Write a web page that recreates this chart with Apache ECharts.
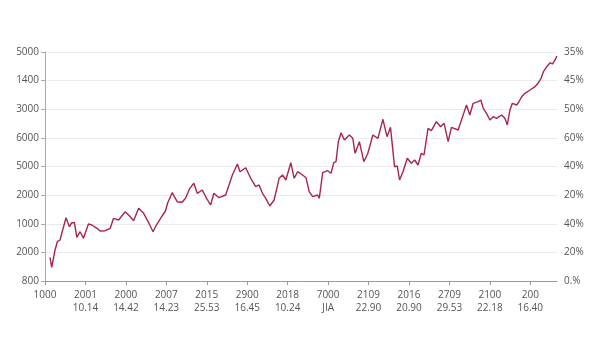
<!DOCTYPE html>
<html><head><meta charset="utf-8">
<script src="https://cdn.jsdelivr.net/npm/echarts@6/dist/echarts.min.js"></script>
<style>html,body{margin:0;padding:0;background:#fff}#c{width:600px;height:338px}</style>
</head><body><div id="c"></div>
<script>
const leftLabels = ['800','2000','1000','2000','5000','6000','3000','1400','5000'];
const rightLabels = ['0.%','20%','40%','20%','40%','60%','50%','45%','35%'];
const xTop = ['1000','2001','2000','2007','2015','2900','2018','7000','2109','2016','2709','2100','200'];
const xBottom = ['','10.14','14.42','14.23','25.53','16.45','10.24','JIA','22.90','20.90','29.53','22.18','16.40'];
const xs = [0.124,0.166,0.248,0.305,0.372,0.414,0.454,0.521,0.603,0.663,0.727,0.787,0.868,0.950,1.074,1.159,1.283,1.365,1.489,1.613,1.695,1.819,1.985,2.109,2.191,2.315,2.439,2.563,2.672,2.754,2.896,2.978,3.035,3.144,3.268,3.392,3.474,3.581,3.680,3.764,3.888,3.995,4.094,4.176,4.300,4.467,4.633,4.757,4.821,4.963,5.087,5.211,5.293,5.377,5.459,5.558,5.665,5.789,5.873,5.955,6.079,6.161,6.246,6.370,6.452,6.533,6.618,6.742,6.782,6.866,6.990,7.072,7.139,7.196,7.253,7.320,7.402,7.526,7.610,7.667,7.774,7.883,7.983,8.107,8.231,8.355,8.457,8.543,8.643,8.710,8.767,8.851,8.958,9.057,9.139,9.223,9.305,9.372,9.471,9.553,9.677,9.784,9.868,9.968,10.050,10.216,10.298,10.422,10.504,10.588,10.712,10.777,10.836,10.918,11.000,11.084,11.166,11.290,11.372,11.432,11.496,11.556,11.663,11.720,11.787,11.868,11.993,12.117,12.201,12.266,12.325,12.407,12.489,12.548,12.613,12.655];
const ys = [0.828,0.479,1.083,1.373,1.432,1.666,1.722,2.211,1.897,2.037,2.037,1.527,1.722,1.492,1.991,1.956,1.841,1.747,1.757,1.841,2.190,2.131,2.421,2.246,2.107,2.540,2.365,2.037,1.722,1.956,2.271,2.445,2.735,3.085,2.770,2.749,2.889,3.238,3.413,3.064,3.179,2.889,2.655,3.064,2.910,3.004,3.703,4.087,3.818,3.958,3.588,3.294,3.354,3.064,2.889,2.620,2.830,3.588,3.703,3.528,4.133,3.588,3.818,3.703,3.609,3.120,2.945,3.004,2.889,3.783,3.853,3.762,4.133,4.168,4.866,5.181,4.926,5.100,4.985,4.461,4.866,4.168,4.461,5.100,4.985,5.649,5.042,5.369,3.993,4.017,3.528,3.818,4.286,4.112,4.227,4.052,4.461,4.402,5.334,5.251,5.565,5.390,5.509,4.866,5.369,5.275,5.624,6.148,5.799,6.208,6.264,6.323,6.033,5.858,5.624,5.740,5.684,5.799,5.684,5.450,5.974,6.208,6.148,6.264,6.438,6.557,6.672,6.788,6.928,7.081,7.312,7.487,7.626,7.581,7.721,7.860];

const tickIdx = xTop.map((_, i) => i);
const chart = echarts.init(document.getElementById('c'));
const txt = {color:'#555', fontSize:10, fontFamily:'Open Sans'};
chart.setOption({
  animation:false,
  grid:{left:45,right:43,top:52,bottom:57},
  xAxis:{type:'value',min:0,max:12.66,interval:1,
    axisLine:{show:true,lineStyle:{color:'#999'}},
    axisTick:{show:true,length:4,lineStyle:{color:'#999'},customValues:tickIdx},
    axisLabel:Object.assign({margin:8,lineHeight:13,customValues:tickIdx,
      formatter:v=>{const i=Math.round(v);return xBottom[i]?xTop[i]+'\n'+xBottom[i]:xTop[i];}},txt),
    splitLine:{show:false}},
  yAxis:[
    {type:'value',min:0,max:8,interval:1,position:'left',
     axisLine:{show:true,lineStyle:{color:'#aaa'}},
     axisTick:{show:true,length:4,lineStyle:{color:'#aaa'}},
     axisLabel:Object.assign({margin:6,formatter:v=>leftLabels[Math.round(v)]},txt),
     splitLine:{show:true,lineStyle:{color:'#ebebeb'}}},
    {type:'value',min:0,max:8,interval:1,position:'right',
     axisLine:{show:false},axisTick:{show:false},
     axisLabel:Object.assign({margin:7,formatter:v=>rightLabels[Math.round(v)]},txt),
     splitLine:{show:false}}
  ],
  series:[{type:'line',showSymbol:false,symbol:'none',
    data:xs.map((x,i)=>[x,ys[i]]),
    lineStyle:{color:'#a8264a',width:1.4}}]
});
</script></body></html>
